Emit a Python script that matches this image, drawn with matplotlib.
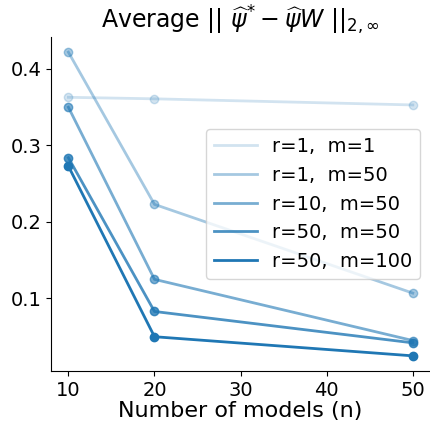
import matplotlib
matplotlib.use("Agg")
import matplotlib.pyplot as plt

n_models = [10, 20, 50]
labels = ["r=1,  m=1", "r=1,  m=50", "r=10,  m=50", "r=50,  m=50", "r=50,  m=100"]
values = [
    [0.363, 0.361, 0.353],
    [0.422, 0.223, 0.107],
    [0.350, 0.125, 0.045],
    [0.284, 0.083, 0.042],
    [0.273, 0.050, 0.025],
]
alphas = [0.2, 0.4, 0.6, 0.8, 1.0]

fig = plt.figure(figsize=(4.3, 4.25), dpi=100)
ax = fig.add_axes([0.119, 0.127, 0.881, 0.786])
color = "#1f77b4"
for lab, v, a in zip(labels, values, alphas):
    ax.plot(n_models, v, color=color, alpha=a, lw=2, label=lab)
    ax.scatter(n_models, v, color=color, alpha=a, s=36, zorder=3)

ax.spines['top'].set_visible(False)
ax.spines['right'].set_visible(False)
ax.set_xticks([10, 20, 30, 40, 50])
ax.set_yticks([0.1, 0.2, 0.3, 0.4])
ax.tick_params(labelsize=14)
ax.set_xlabel("Number of models (n)", fontsize=16, labelpad=1)
ax.set_title(r"Average || $\widehat{\psi}^{*} - \widehat{\psi}W$ $||_{2,\infty}$", fontsize=17)
ax.legend(loc="center right", fontsize=14, handlelength=2.2)
fig.savefig("out.png", dpi=100)
